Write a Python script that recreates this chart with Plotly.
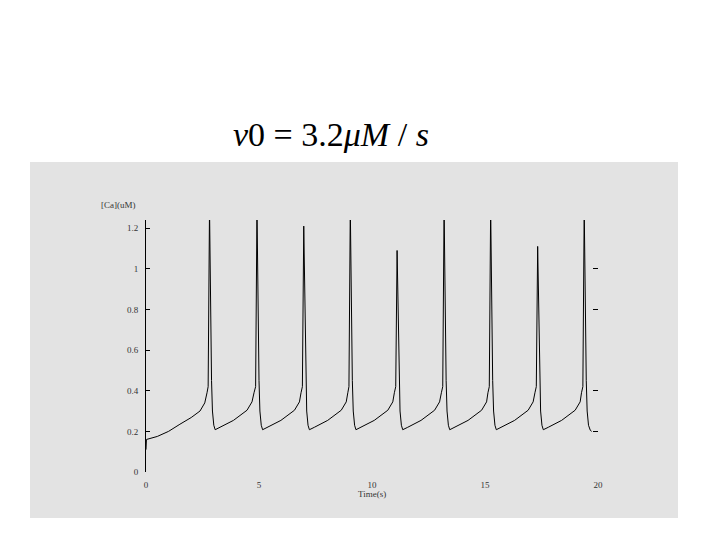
import plotly.graph_objects as go

# Time (s) and cytosolic calcium concentration [Ca] (uM)
time_s = [0.00, 0.02, 0.50, 1.00, 1.50, 2.00, 2.39, 2.60, 2.70, 2.75,
          2.81, 2.85, 2.90, 2.94, 3.00, 3.06, 3.28, 3.87, 4.47, 4.69, 4.78, 4.85,
          4.91, 4.95, 5.00, 5.04, 5.10, 5.16, 5.38, 5.97, 6.57, 6.79, 6.86, 6.92,
          6.98, 7.02, 7.07, 7.11, 7.17, 7.23, 7.45, 8.04, 8.64, 8.86, 8.93, 8.98,
          9.04, 9.08, 9.13, 9.17, 9.23, 9.29, 9.51, 10.10, 10.70, 10.92, 10.99, 11.05,
          11.11, 11.15, 11.20, 11.24, 11.30, 11.36, 11.58, 12.17, 12.77, 12.99, 13.07, 13.13,
          13.19, 13.23, 13.28, 13.32, 13.38, 13.44, 13.66, 14.25, 14.85, 15.07, 15.13, 15.19,
          15.25, 15.29, 15.34, 15.38, 15.44, 15.50, 15.72, 16.31, 16.91, 17.13, 17.21, 17.27,
          17.33, 17.37, 17.42, 17.46, 17.52, 17.58, 17.80, 18.39, 18.99, 19.21, 19.27, 19.33,
          19.39, 19.43, 19.48, 19.52, 19.58, 19.66, 19.72]
ca_uM = [0.11, 0.16, 0.175, 0.20, 0.235, 0.268, 0.30, 0.34, 0.39, 0.42,
         1.30, 0.85, 0.45, 0.30, 0.23, 0.208, 0.22, 0.254, 0.304, 0.345, 0.39, 0.42,
         1.30, 0.85, 0.45, 0.30, 0.23, 0.208, 0.22, 0.254, 0.304, 0.345, 0.39, 0.42,
         1.21, 0.85, 0.45, 0.30, 0.23, 0.208, 0.22, 0.254, 0.304, 0.345, 0.39, 0.42,
         1.30, 0.85, 0.45, 0.30, 0.23, 0.208, 0.22, 0.254, 0.304, 0.345, 0.39, 0.42,
         1.09, 0.80, 0.45, 0.30, 0.23, 0.208, 0.22, 0.254, 0.304, 0.345, 0.39, 0.42,
         1.30, 0.85, 0.45, 0.30, 0.23, 0.208, 0.22, 0.254, 0.304, 0.345, 0.39, 0.42,
         1.30, 0.85, 0.45, 0.30, 0.23, 0.208, 0.22, 0.254, 0.304, 0.345, 0.39, 0.42,
         1.11, 0.80, 0.45, 0.30, 0.23, 0.208, 0.22, 0.254, 0.304, 0.345, 0.39, 0.42,
         1.30, 0.85, 0.45, 0.30, 0.23, 0.205, 0.20]

x_ticks = [0, 5, 10, 15, 20]
x_tick_labels = ["0", "5", "10", "15", "20"]
y_ticks = [0, 0.2, 0.4, 0.6, 0.8, 1.0, 1.2]
y_tick_labels = ["0", "0.2", "0.4", "0.6", "0.8", "1", "1.2"]
right_ticks = [0.2, 0.4, 0.8, 1.0]

OFF = 8  # page body margin
W, H = 720 - OFF, 540 - OFF
L, R, T, B = 146 - OFF, 122, 220 - OFF, 68
pw, ph = W - L - R, H - T - B

def px(xpix):
    return (xpix - OFF - L) / pw

def py(ypix):
    return (H - B - (ypix - OFF)) / ph

GREY = "#e3e3e3"
tick_font = dict(family="Liberation Serif", size=9, color="#333")

fig = go.Figure()
fig.add_trace(go.Scatter(x=time_s, y=ca_uM, mode="lines",
                         line=dict(color="black", width=1), showlegend=False))

fig.update_layout(
    width=W, height=H,
    margin=dict(l=L, r=R, t=T, b=B, pad=0),
    paper_bgcolor="white",
    plot_bgcolor=GREY,
    xaxis=dict(range=[0, 20], tickvals=x_ticks, ticktext=x_tick_labels,
               showline=False, showgrid=False, zeroline=False, ticks="",
               ticklabelstandoff=6, tickfont=tick_font),
    yaxis=dict(range=[0, 1.24], tickvals=y_ticks, ticktext=y_tick_labels,
               showline=True, linecolor="black", linewidth=1,
               ticks="inside", ticklen=4, tickcolor="black",
               ticklabelstandoff=5,
               showgrid=False, zeroline=False, tickfont=tick_font),
    yaxis2=dict(range=[0, 1.24], overlaying="y", side="right",
                tickvals=right_ticks, showticklabels=False,
                ticks="inside", ticklen=5, tickcolor="black",
                showline=False, showgrid=False, zeroline=False),
    shapes=[dict(type="rect", xref="paper", yref="paper", layer="below",
                 x0=px(30), x1=px(678), y0=py(518), y1=py(162),
                 fillcolor=GREY, line=dict(width=0))],
    annotations=[
        dict(text="<i>v</i>0 = 3.2<i>μM</i> / <i>s</i>", xref="paper", yref="paper",
             x=px(331), y=py(134), xanchor="center", yanchor="middle", showarrow=False,
             font=dict(family="Liberation Serif", size=34, color="black")),
        dict(text="[Ca](uM)", xref="paper", yref="paper",
             x=px(118), y=py(205), xanchor="center", yanchor="middle", showarrow=False,
             font=tick_font),
        dict(text="Time(s)", xref="paper", yref="paper",
             x=px(372), y=py(494), xanchor="center", yanchor="middle", showarrow=False,
             font=tick_font),
    ],
)
fig.add_trace(go.Scatter(x=[None], y=[None], yaxis="y2", showlegend=False))

fig.write_html("out.html")
